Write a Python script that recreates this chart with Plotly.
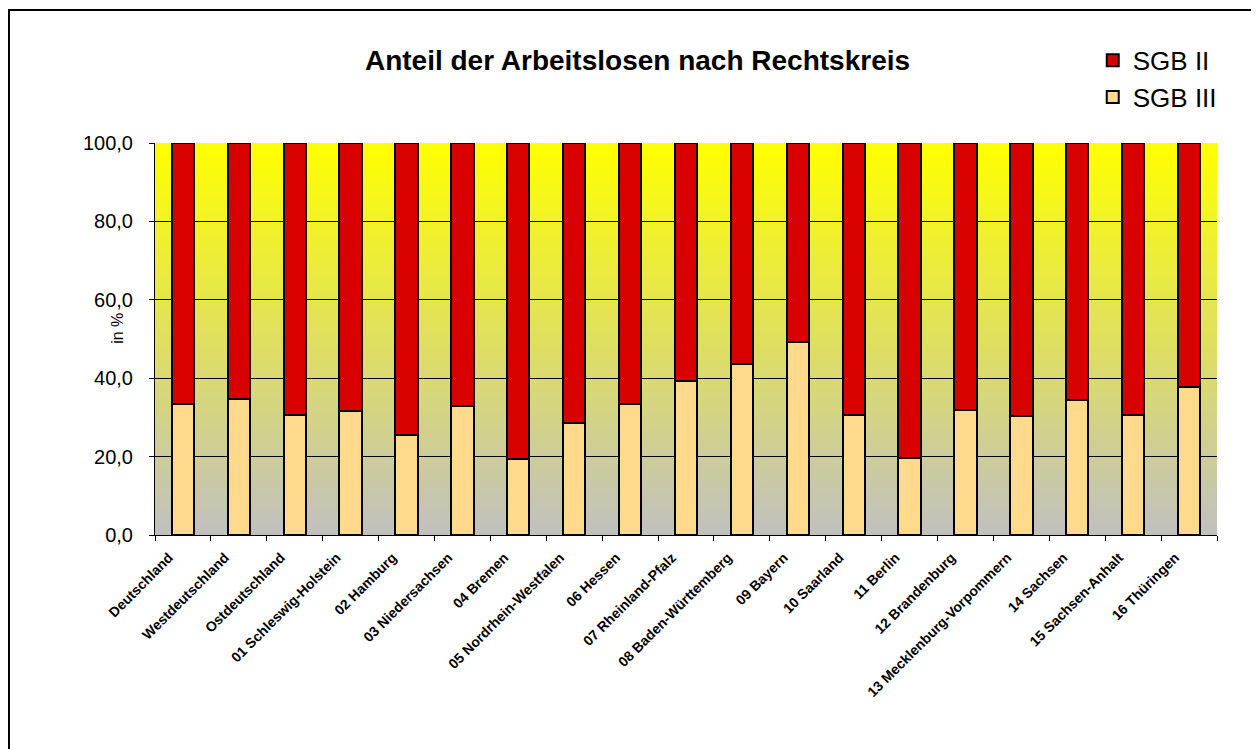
import base64
import plotly.graph_objects as go

categories = ["Deutschland", "Westdeutschland", "Ostdeutschland", "01 Schleswig-Holstein",
              "02 Hamburg", "03 Niedersachsen", "04 Bremen", "05 Nordrhein-Westfalen",
              "06 Hessen", "07 Rheinland-Pfalz", "08 Baden-Württemberg", "09 Bayern",
              "10 Saarland", "11 Berlin", "12 Brandenburg", "13 Mecklenburg-Vorpommern",
              "14 Sachsen", "15 Sachsen-Anhalt", "16 Thüringen"]
sgb3 = [33.4, 34.6, 30.5, 31.6, 25.4, 32.8, 19.4, 28.6, 33.3, 39.3, 43.6, 49.2,
        30.7, 19.6, 31.8, 30.4, 34.4, 30.5, 37.8]
sgb2 = [round(100 - v, 1) for v in sgb3]

title = "Anteil der Arbeitslosen nach Rechtskreis"
y_title = "in %"
y_ticks = [0, 20, 40, 60, 80, 100]
grid_vals = [20, 40, 60, 80]

RED = "#D90000"
PEACH = "#FFD98C"

fig = go.Figure()
fig.add_trace(go.Bar(name="SGB III", x=categories, y=sgb3,
                     marker=dict(color=PEACH, line=dict(color="black", width=2))))
fig.add_trace(go.Bar(name="SGB II", x=categories, y=sgb2,
                     marker=dict(color=RED, line=dict(color="black", width=2))))

svg = ('<svg xmlns="http://www.w3.org/2000/svg" width="10" height="100" viewBox="0 0 10 100" '
       'preserveAspectRatio="none"><defs><linearGradient id="g" x1="0" y1="0" x2="0" y2="1">'
       '<stop offset="0" stop-color="#FFFF00"/><stop offset="1" stop-color="#C0C0C0"/>'
       '</linearGradient></defs><rect x="0" y="0" width="10" height="100" fill="url(#g)"/></svg>')
src = "data:image/svg+xml;base64," + base64.b64encode(svg.encode()).decode()

FONT = "Arial, Liberation Sans, sans-serif"

fig.update_layout(
    width=1259, height=749,
    margin=dict(l=147, r=50, t=135, b=222, autoexpand=False),
    paper_bgcolor="white",
    plot_bgcolor="rgba(0,0,0,0)",
    barmode="stack",
    bargap=0.6,
    separators=",.",
    font=dict(family=FONT, color="black"),
    title=dict(text="<b>" + title + "</b>", x=0.5, xanchor="center",
               y=1 - 52 / 749, yanchor="middle", font=dict(size=28)),
    legend=dict(x=0.883, y=1.271, xanchor="left", yanchor="top",
                font=dict(size=26), bgcolor="rgba(0,0,0,0)", tracegroupgap=0,
                itemwidth=30),
    images=[dict(source=src, xref="paper", yref="paper", x=0, y=1, sizex=1, sizey=1,
                 xanchor="left", yanchor="top", sizing="stretch", layer="below")],
    shapes=[dict(type="rect", xref="paper", yref="paper", x0=-0.1375, x1=2.0,
                 y0=-2.0, y1=1.3393, line=dict(color="black", width=2),
                 fillcolor="rgba(0,0,0,0)", layer="above")],
    annotations=[dict(text=y_title, xref="paper", yref="paper", x=-0.0348, y=0.526,
                      xanchor="center", yanchor="middle", textangle=-90,
                      showarrow=False, font=dict(size=16))],
)

fig.update_xaxes(
    type="category", tickangle=-45, tickfont=dict(size=14, family=FONT),
    tickprefix="<b>", ticksuffix="</b>",
    ticklabelshift=-14, ticklabelstandoff=8,
    showline=True, linecolor="black", linewidth=1,
    ticks="outside", ticklen=5, tickcolor="black", tickson="boundaries",
    mirror=False, showgrid=False,
)
fig.update_yaxes(
    range=[0, 100], tickvals=y_ticks, tickformat=".1f", tickfont=dict(size=20),
    ticklabelstandoff=12,
    showline=True, linecolor="black", linewidth=1,
    ticks="outside", ticklen=5, tickcolor="black",
    showgrid=False,
    minor=dict(tickvals=grid_vals, showgrid=True, gridcolor="black", gridwidth=1, ticks=""),
    zeroline=False,
)

fig.write_html("out.html")
